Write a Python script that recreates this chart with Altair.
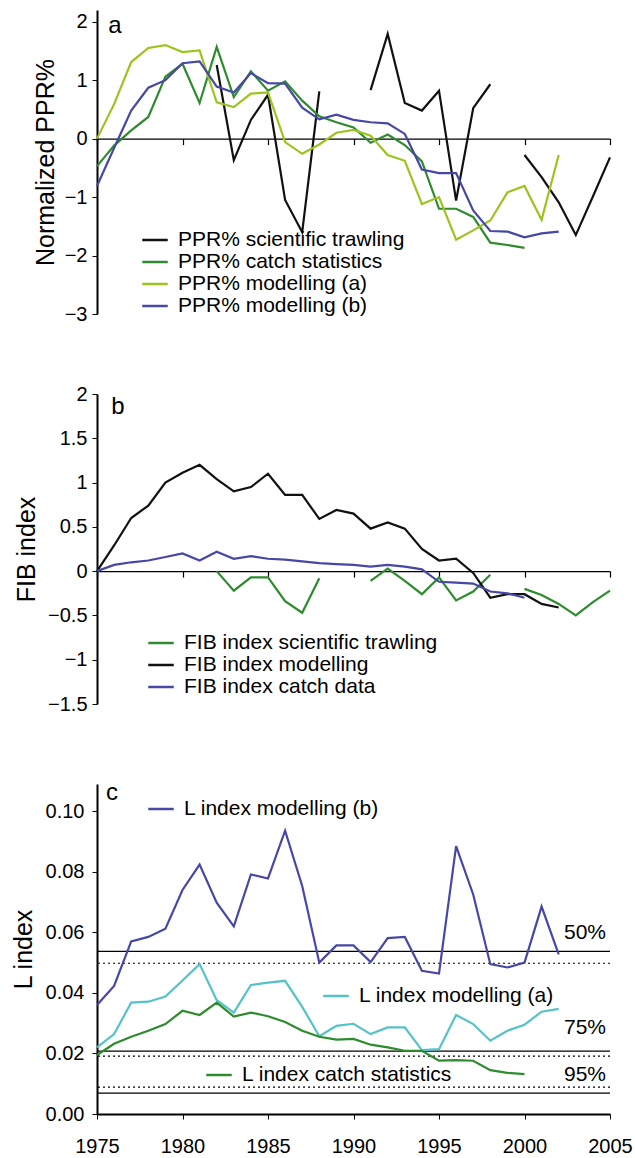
import altair as alt
import pandas as pd

FONT = "Liberation Sans"
YEARS = list(range(1975, 2006))

# ---- panel a: normalized PPR% (None = no observation) ----
ppr_trawl = [None] * 7 + [1.26, -0.37, 0.32, 0.75, -1.05, -1.6, 0.81,
                          None, None,
                          0.83, 1.79, 0.61, 0.48, 0.82, -1.06, 0.52, 0.93,
                          None,
                          -0.28, -0.66, -1.09, -1.65, -0.99, -0.32]
ppr_catch = [-0.47, -0.12, 0.14, 0.37, 1.06, 1.28, 0.61, 1.57, 0.71, 1.15,
             0.82, 0.98, 0.65, 0.38, 0.28, 0.19, -0.07, 0.07, -0.11, -0.39,
             -1.2, -1.2, -1.34, -1.78, -1.82, -1.87]
ppr_model_a = [0.0, 0.59, 1.31, 1.55, 1.6, 1.48, 1.51, 0.62, 0.54, 0.77,
               0.79, -0.06, -0.26, -0.1, 0.1, 0.15, 0.05, -0.28, -0.38, -1.12,
               -1.0, -1.73, -1.57, -1.4, -0.92, -0.81, -1.39, -0.28]
ppr_model_b = [-0.81, -0.16, 0.48, 0.87, 1.0, 1.29, 1.32, 0.89, 0.79, 1.12,
               0.95, 0.94, 0.53, 0.33, 0.41, 0.32, 0.28, 0.26, 0.08, -0.53,
               -0.59, -0.59, -1.23, -1.58, -1.59, -1.69, -1.62, -1.59]

# ---- panel b: FIB index ----
fib_trawl = [None] * 7 + [0.0, -0.22, -0.07, -0.07, -0.34, -0.47, -0.08,
                          None, None,
                          -0.11, 0.03, -0.11, -0.26, -0.07, -0.33, -0.23, -0.04,
                          None,
                          -0.2, -0.27, -0.37, -0.5, -0.35, -0.22]
fib_model = [0.0, 0.29, 0.6, 0.74, 1.0, 1.11, 1.2, 1.04, 0.9, 0.95,
             1.1, 0.86, 0.86, 0.59, 0.69, 0.65, 0.48, 0.55, 0.48, 0.25,
             0.12, 0.14, -0.02, -0.3, -0.26, -0.26, -0.37, -0.41]
fib_catch = [0.0, 0.07, 0.1, 0.12, 0.16, 0.2, 0.12, 0.22, 0.14, 0.17,
             0.14, 0.13, 0.11, 0.09, 0.08, 0.07, 0.05, 0.07, 0.05, 0.02,
             -0.12, -0.13, -0.14, -0.23, -0.25, -0.3]

# ---- panel c: L index ----
l_model_b = [0.036, 0.0423, 0.057, 0.0585, 0.0612, 0.074, 0.0824, 0.0698, 0.062, 0.0791,
             0.0778, 0.0936, 0.0753, 0.050, 0.0557, 0.0557, 0.0502, 0.0581, 0.0585, 0.0473,
             0.0464, 0.0885, 0.0725, 0.0495, 0.0484, 0.050, 0.0685, 0.0527]
l_model_a = [0.022, 0.0264, 0.0368, 0.0371, 0.0388, 0.0441, 0.0495, 0.0376, 0.0335, 0.0426,
             0.0434, 0.044, 0.0354, 0.0257, 0.0291, 0.0298, 0.0264, 0.0286, 0.0286, 0.0211,
             0.0214, 0.0327, 0.0297, 0.0242, 0.0275, 0.0295, 0.0338, 0.0347]
l_catch = [0.0195, 0.0232, 0.0255, 0.0275, 0.0297, 0.0341, 0.0327, 0.0368, 0.0322, 0.0335,
           0.0323, 0.0304, 0.0275, 0.0255, 0.0246, 0.0248, 0.0229, 0.022, 0.0209, 0.0209,
           0.0176, 0.0178, 0.0176, 0.0145, 0.0136, 0.0132]

# sustainability thresholds (solid and dotted reference levels)
l_solid = [0.0537, 0.0208, 0.0069]
l_dotted = [0.0498, 0.0191, 0.0089]
l_pct_labels = ["50%", "75%", "95%"]
l_pct_y = [0.0578, 0.0264, 0.0109]

BLACK = "#111111"
DKGREEN = "#2e8b2e"
LTGREEN = "#9cc41f"
BLUE = "#4747a6"
CYAN = "#55c2c8"


def long_form(series):
    rows = []
    for name, vals in series.items():
        seg, prev = 0, False
        for yr, v in zip(YEARS, vals):
            if v is None:
                if prev:
                    seg += 1
                prev = False
                continue
            rows.append({"year": yr, "value": v, "series": name, "seg": f"{name}#{seg}"})
            prev = True
    return pd.DataFrame(rows)


def letter(ch, px, py):
    return alt.Chart(pd.DataFrame({"t": [ch]})).mark_text(
        font=FONT, fontSize=24, align="center", baseline="middle", color="black"
    ).encode(text="t:N", x=alt.value(px), y=alt.value(py))


W = 513
TICK_YEARS = list(range(1975, 2006, 5))


def zero_axis_x(height, lo, hi):
    off = -height * (0 - lo) / (hi - lo)
    return alt.X("year:Q", scale=alt.Scale(domain=[1975, 2005], nice=False),
                 axis=alt.Axis(title=None, labels=False, values=TICK_YEARS, tickSize=6,
                               offset=off, domainWidth=1.2, tickWidth=1.2, grid=False))


def series_panel(df, field, names, colors, ydom, yvals, yfmt, ytitle, tpad, height,
                 legx, legy, ch, chx, chy):
    lines = alt.Chart(df.rename(columns={"series": field})).mark_line(strokeWidth=2.2).encode(
        x=zero_axis_x(height, ydom[0], ydom[1]),
        y=alt.Y("value:Q", scale=alt.Scale(domain=ydom, nice=False, zero=False),
                axis=alt.Axis(values=yvals, format=yfmt, title=ytitle, titlePadding=tpad)),
        color=alt.Color(f"{field}:N", sort=names,
                        scale=alt.Scale(domain=names, range=colors),
                        legend=alt.Legend(orient="none", legendX=legx, legendY=legy, title=None)),
        detail="seg:N",
    )
    return alt.layer(lines, letter(ch, chx, chy)).properties(width=W, height=height)


# panel a
names_a = ["PPR% scientific trawling", "PPR% catch statistics",
           "PPR% modelling (a)", "PPR% modelling (b)"]
df_a = long_form(dict(zip(names_a, [ppr_trawl, ppr_catch, ppr_model_a, ppr_model_b])))
panel_a = series_panel(df_a, "ppr", names_a, [BLACK, DKGREEN, LTGREEN, BLUE],
                       [-3, 2.2], [-3, -2, -1, 0, 1, 2], "d", "Normalized PPR%", 6,
                       304, 44, 219, "a", 18, 16)

# panel b
names_b = ["FIB index scientific trawling", "FIB index modelling", "FIB index catch data"]
df_b = long_form(dict(zip(names_b, [fib_trawl, fib_model, fib_catch])))
panel_b = series_panel(df_b, "fib", names_b, [DKGREEN, BLACK, BLUE],
                       [-1.5, 2], [-1.5, -1, -0.5, 0, 0.5, 1, 1.5, 2], "~g", "FIB index", 8,
                       310, 50, 238, "b", 21, 13)

# panel c
HC = 330
ydom_c = [0, 0.109]
x_c = alt.X("year:Q", scale=alt.Scale(domain=[1975, 2005], nice=False),
            axis=alt.Axis(title=None, values=TICK_YEARS, format="d", tickSize=5,
                          labelPadding=17, labelFlush=False, domainWidth=2, grid=False))
y_c = alt.Y("value:Q", scale=alt.Scale(domain=ydom_c, nice=False, zero=False),
            axis=alt.Axis(values=[0, 0.02, 0.04, 0.06, 0.08, 0.10], format=".2f",
                          title="L index", titlePadding=9, labelPadding=8))

solid = alt.Chart(pd.DataFrame({"value": l_solid})).mark_rule(color="black", strokeWidth=1.3).encode(y=y_c)
dotted = alt.Chart(pd.DataFrame({"value": l_dotted})).mark_rule(
    color="black", strokeWidth=1.2, strokeDash=[2, 3]).encode(y=y_c)
pct = alt.Chart(pd.DataFrame({"lab": l_pct_labels, "value": l_pct_y, "year": [2005] * 3})).mark_text(
    font=FONT, fontSize=21, align="right", baseline="alphabetic", dx=-4, color="black"
).encode(x=x_c, y=y_c, text="lab:N")

c_series = [("L index modelling (b)", l_model_b, BLUE, 50, 14),
            ("L index modelling (a)", l_model_a, CYAN, 225, 201),
            ("L index catch statistics", l_catch, DKGREEN, 108, 280)]
c_layers = []
for name, vals, col, lx, ly in c_series:
    d = long_form({name: vals})
    c_layers.append(
        alt.Chart(d).mark_line(strokeWidth=2.2).encode(
            x=x_c, y=y_c,
            color=alt.Color("series:N", scale=alt.Scale(domain=[name], range=[col]),
                            legend=alt.Legend(orient="none", legendX=lx, legendY=ly, title=None)),
        )
    )

panel_c = alt.layer(solid, dotted, *c_layers, pct, letter("c", 15, 9)).resolve_scale(
    color="independent").properties(width=W, height=HC)

chart = alt.vconcat(panel_a, panel_b, panel_c, spacing=80, bounds="flush").resolve_scale(
    color="independent"
).configure_view(stroke=None).configure_axis(
    labelFont=FONT, labelFontSize=20, labelColor="black",
    titleFont=FONT, titleFontSize=25, titleFontWeight="normal", titleColor="black",
    domainColor="black", tickColor="black", domainWidth=2,
    tickSize=5, labelPadding=5, grid=False,
).configure_legend(
    labelFont=FONT, labelFontSize=21, labelColor="black", labelLimit=0,
    symbolType="stroke", symbolSize=650, symbolStrokeWidth=2.5, labelOffset=9,
    rowPadding=0, clipHeight=22,
).properties(padding={"left": 11, "top": 10, "right": 0, "bottom": 0})

chart.save("out.html", embed_options={"renderer": "svg", "actions": False})
